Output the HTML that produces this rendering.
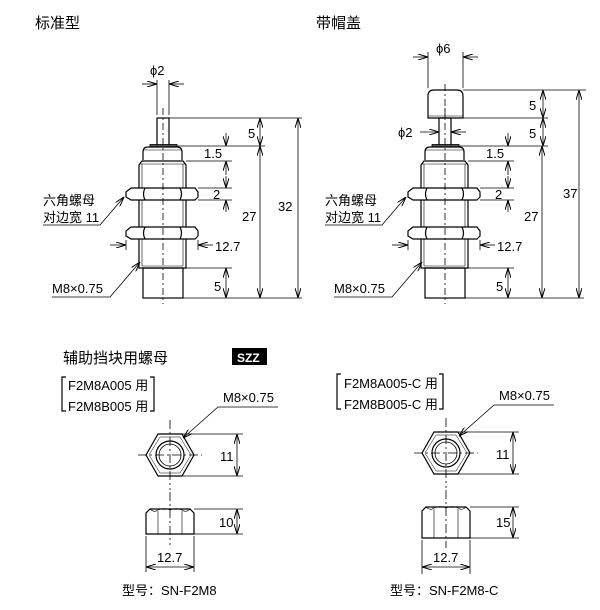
<!DOCTYPE html>
<html><head><meta charset="utf-8"><style>
html,body{margin:0;padding:0;background:#fff}
svg{display:block}
text{font-family:"Liberation Sans","Noto Sans CJK SC",sans-serif;font-size:13px;fill:#000}
.t{font-size:15px}
</style></head><body>
<svg width="600" height="610" viewBox="0 0 600 610" xmlns="http://www.w3.org/2000/svg">
<defs>
<marker id="a" viewBox="0 0 10 6" refX="10" refY="3" markerWidth="10" markerHeight="6" orient="auto-start-reverse" markerUnits="userSpaceOnUse"><path d="M0,0 L10,3 L0,6" fill="none" stroke="#000" stroke-width="1"/></marker>
<g id="body">
 <rect x="157" y="118" width="12" height="28" fill="none" stroke="#000" stroke-width="1.2"/>
 <rect x="150" y="144.5" width="27" height="2.5" fill="#555" stroke="#000" stroke-width="0.8"/>
 <path d="M143,160 L143,152 Q143,147 148,147 L177,147 Q182,147 182,152 L182,160" fill="none" stroke="#000" stroke-width="1.2"/>
 <line x1="143" y1="150" x2="182" y2="150" stroke="#000" stroke-width="0.6"/>
 <path d="M139,268 L139,165 L142,161 L183,161 L186,165 L186,268 Z" fill="none" stroke="#000" stroke-width="1.2"/>
 <line x1="142" y1="164" x2="142" y2="266" stroke="#000" stroke-width="0.6"/>
 <line x1="183" y1="164" x2="183" y2="266" stroke="#000" stroke-width="0.6"/>
 <line x1="139" y1="164" x2="186" y2="164" stroke="#000" stroke-width="0.6"/>
 <line x1="142" y1="266" x2="183" y2="266" stroke="#000" stroke-width="0.6"/>
 <g id="nut" fill="#fff" stroke="#000" stroke-width="1.2">
  <path d="M131,188 L195,188 L198,192 L198,197 L195,200 L131,200 L126,197 L126,192 Z"/>
  <path d="M145,188 Q142,194 145,200 M180,188 Q183,194 180,200" fill="none"/>
 </g>
 <use href="#nut" transform="translate(0,39)"/>
 <rect x="143" y="268" width="40" height="30" fill="none" stroke="#000" stroke-width="1.2"/>
 <line x1="163" y1="108" x2="163" y2="304" stroke="#000" stroke-width="0.8" stroke-dasharray="7,3,2,3"/>
 <g stroke="#000" stroke-width="0.8" fill="none">
  <line x1="186" y1="161" x2="232" y2="161"/>
  <line x1="198" y1="188" x2="232" y2="188"/>
  <line x1="198" y1="200" x2="232" y2="200"/>
  <line x1="186" y1="268" x2="232" y2="268"/>
  <line x1="183" y1="298" x2="302" y2="298"/>
  <line x1="226" y1="133" x2="226" y2="146" marker-end="url(#a)"/>
  <line x1="226" y1="175" x2="226" y2="161" marker-end="url(#a)"/>
  <line x1="226" y1="176" x2="226" y2="188" marker-end="url(#a)"/>
  <line x1="226" y1="212" x2="226" y2="200" marker-end="url(#a)"/>
  <line x1="226" y1="268" x2="226" y2="298" marker-start="url(#a)" marker-end="url(#a)"/>
  <line x1="260" y1="146" x2="260" y2="298" marker-start="url(#a)" marker-end="url(#a)"/>
  <line x1="110" y1="245" x2="126" y2="245" marker-end="url(#a)"/>
  <line x1="126" y1="240" x2="126" y2="250"/>
  <line x1="198" y1="240" x2="198" y2="250"/>
  <line x1="213" y1="245" x2="198" y2="245" marker-end="url(#a)"/>
 </g>
 <text x="204" y="158">1.5</text>
 <text x="213" y="199">2</text>
 <text x="242" y="221">27</text>
 <text x="215" y="251">12.7</text>
 <text x="214" y="291">5</text>
 <text x="43" y="205">六角螺母</text>
 <text x="43" y="222">对边宽 11</text>
 <polyline points="43,225 100,225 124,197" fill="none" stroke="#000" stroke-width="0.8" marker-end="url(#a)"/>
 <text x="52" y="293">M8×0.75</text>
 <polyline points="52,297 110,297 140,262" fill="none" stroke="#000" stroke-width="0.8" marker-end="url(#a)"/>
</g>
</defs>

<text class="t" x="35" y="28">标准型</text>
<text class="t" x="316" y="28">带帽盖</text>

<use href="#body"/>
<g stroke="#000" stroke-width="0.8" fill="none">
 <line x1="157" y1="80" x2="157" y2="115"/>
 <line x1="169" y1="80" x2="169" y2="115"/>
 <line x1="142" y1="84" x2="157" y2="84" marker-end="url(#a)"/>
 <line x1="184" y1="84" x2="169" y2="84" marker-end="url(#a)"/>
 <line x1="169" y1="118" x2="302" y2="118"/>
 <line x1="177" y1="146" x2="265" y2="146"/>
 <line x1="260" y1="118" x2="260" y2="146" marker-start="url(#a)" marker-end="url(#a)"/>
 <line x1="298" y1="118" x2="298" y2="298" marker-start="url(#a)" marker-end="url(#a)"/>
</g>
<text x="150" y="75">ϕ2</text>
<text x="248" y="138">5</text>
<text x="278" y="211">32</text>

<use href="#body" transform="translate(282,0)"/>
<path d="M428,118 L428,96 Q428,90 434,90 L457,90 Q463,90 463,96 L463,118 Z" fill="none" stroke="#000" stroke-width="1.2"/>
<line x1="428" y1="116" x2="463" y2="116" stroke="#000" stroke-width="0.6"/>
<line x1="445" y1="84" x2="445" y2="118" stroke="#000" stroke-width="0.8" stroke-dasharray="7,3,2,3"/>
<g stroke="#000" stroke-width="0.8" fill="none">
 <line x1="428" y1="52" x2="428" y2="88"/>
 <line x1="463" y1="52" x2="463" y2="88"/>
 <line x1="413" y1="57" x2="428" y2="57" marker-end="url(#a)"/>
 <line x1="478" y1="57" x2="463" y2="57" marker-end="url(#a)"/>
 <line x1="463" y1="90" x2="586" y2="90"/>
 <line x1="463" y1="118" x2="548" y2="118"/>
 <line x1="459" y1="146" x2="548" y2="146"/>
 <line x1="543" y1="90" x2="543" y2="118" marker-start="url(#a)" marker-end="url(#a)"/>
 <line x1="543" y1="118" x2="543" y2="146" marker-start="url(#a)" marker-end="url(#a)"/>
 <line x1="579" y1="90" x2="579" y2="298" marker-start="url(#a)" marker-end="url(#a)"/>
 <line x1="420" y1="132" x2="439" y2="132" marker-end="url(#a)"/>
 <line x1="466" y1="132" x2="451" y2="132" marker-end="url(#a)"/>
</g>
<text x="436" y="53">ϕ6</text>
<text x="398" y="137">ϕ2</text>
<text x="529" y="110">5</text>
<text x="529" y="138">5</text>
<text x="563" y="198">37</text>

<text class="t" x="63" y="363">辅助挡块用螺母</text>
<rect x="232" y="348" width="35" height="17" fill="#000"/>
<text x="237" y="362" style="fill:#fff;font-weight:bold;font-size:12px">SZZ</text>

<defs>
<g id="hexs">
 <polygon points="146,455 158,434 182,434 194,455 182,476 158,476" fill="none" stroke="#000" stroke-width="1.2"/>
 <polygon points="149,455 160,437 180,437 191,455 180,473 160,473" fill="none" stroke="#000" stroke-width="0.5"/>
 <circle cx="170" cy="455" r="14" fill="none" stroke="#000" stroke-width="1.2"/>
 <circle cx="170" cy="455" r="11" fill="none" stroke="#000" stroke-width="0.8"/>
 <line x1="138" y1="455" x2="202" y2="455" stroke="#000" stroke-width="0.8" stroke-dasharray="9,3,2,3"/>
 <line x1="170" y1="420" x2="170" y2="490" stroke="#000" stroke-width="0.8" stroke-dasharray="9,3,2,3"/>
 <g stroke="#000" stroke-width="0.8" fill="none">
  <line x1="182" y1="434" x2="243" y2="434"/>
  <line x1="182" y1="476" x2="243" y2="476"/>
  <line x1="237" y1="434" x2="237" y2="476" marker-start="url(#a)" marker-end="url(#a)"/>
  <polyline points="278,407 218,407 183,438" marker-end="url(#a)"/>
 </g>
 <text x="223" y="402">M8×0.75</text>
 <text x="220" y="461">11</text>
</g>
</defs>
<use href="#hexs"/>
<path d="M66,377 L62,377 L62,411 L66,411 M150,377 L154,377 L154,411 L150,411" fill="none" stroke="#000" stroke-width="1.2"/>
<text x="68" y="390">F2M8A005 用</text>
<text x="68" y="411">F2M8B005 用</text>
<g stroke="#000" fill="none">
 <path d="M146,534 L146,513 L150,509 L190,509 L194,513 L194,534 Z" stroke-width="1.2"/>
 <path d="M150,509 Q154,513 158,510 Q164,507 170,510 Q176,507 182,510 Q186,513 190,509" stroke-width="0.6"/>
 <line x1="158" y1="511" x2="158" y2="534" stroke-width="0.6"/>
 <line x1="182" y1="511" x2="182" y2="534" stroke-width="0.6"/>
 <line x1="170" y1="492" x2="170" y2="545" stroke-width="0.8" stroke-dasharray="9,3,2,3"/>
 <g stroke-width="0.8">
  <line x1="194" y1="509" x2="243" y2="509"/>
  <line x1="194" y1="534" x2="243" y2="534"/>
  <line x1="237" y1="509" x2="237" y2="534" marker-start="url(#a)" marker-end="url(#a)"/>
  <line x1="146" y1="536" x2="146" y2="572"/>
  <line x1="194" y1="536" x2="194" y2="572"/>
  <line x1="146" y1="567" x2="194" y2="567" marker-start="url(#a)" marker-end="url(#a)"/>
 </g>
</g>
<text x="219" y="527">10</text>
<text x="157" y="562">12.7</text>
<text x="122" y="595">型号：SN-F2M8</text>

<use href="#hexs" transform="translate(276,-2)"/>
<path d="M341,374 L337,374 L337,409 L341,409 M439,374 L443,374 L443,409 L439,409" fill="none" stroke="#000" stroke-width="1.2"/>
<text x="344" y="388">F2M8A005-C 用</text>
<text x="344" y="409">F2M8B005-C 用</text>
<g stroke="#000" fill="none">
 <path d="M422,538 L422,511 L426,507 L466,507 L470,511 L470,538 Z" stroke-width="1.2"/>
 <path d="M426,507 Q430,511 434,508 Q440,505 446,508 Q452,505 458,508 Q462,511 466,507" stroke-width="0.6"/>
 <line x1="434" y1="509" x2="434" y2="538" stroke-width="0.6"/>
 <line x1="458" y1="509" x2="458" y2="538" stroke-width="0.6"/>
 <line x1="446" y1="490" x2="446" y2="548" stroke-width="0.8" stroke-dasharray="9,3,2,3"/>
 <g stroke-width="0.8">
  <line x1="470" y1="507" x2="519" y2="507"/>
  <line x1="470" y1="538" x2="519" y2="538"/>
  <line x1="513" y1="507" x2="513" y2="538" marker-start="url(#a)" marker-end="url(#a)"/>
  <line x1="422" y1="540" x2="422" y2="574"/>
  <line x1="470" y1="540" x2="470" y2="574"/>
  <line x1="422" y1="567" x2="470" y2="567" marker-start="url(#a)" marker-end="url(#a)"/>
 </g>
</g>
<text x="496" y="527">15</text>
<text x="433" y="562">12.7</text>
<text x="390" y="595">型号：SN-F2M8-C</text>
</svg>
</body></html>
